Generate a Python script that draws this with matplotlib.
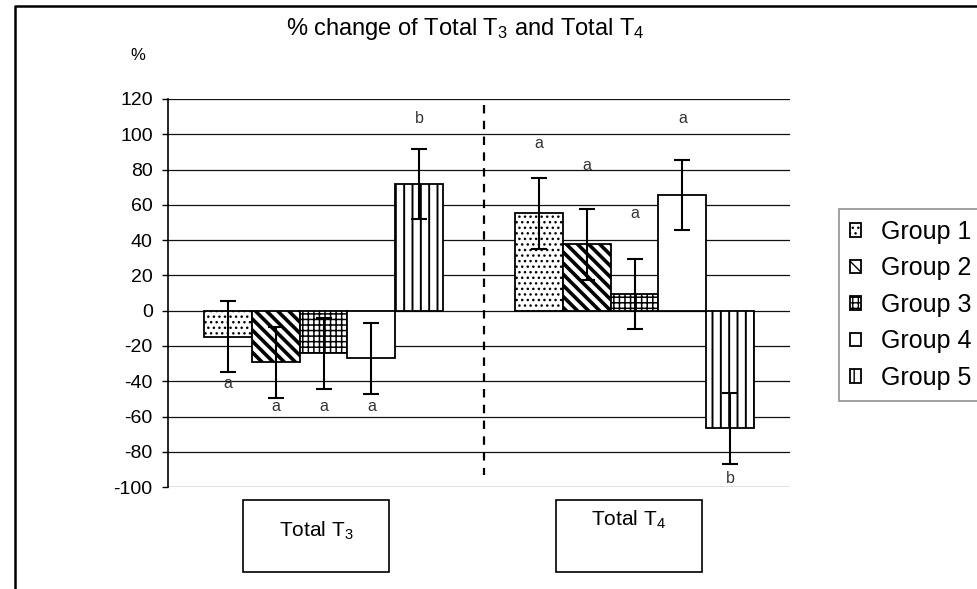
import matplotlib
matplotlib.use('Agg')
import matplotlib.pyplot as plt
import numpy as np
import matplotlib.transforms as mtransforms
from matplotlib.patches import Rectangle
from matplotlib.lines import Line2D

plt.rcParams['font.family'] = ['Liberation Sans', 'DejaVu Sans']
plt.rcParams['mathtext.default'] = 'regular'

# ---------------- data ----------------
categories = ['Total T$_3$', 'Total T$_4$']
groups = ['Group 1', 'Group 2', 'Group 3', 'Group 4', 'Group 5']
group1 = [-14.7, 55.2]
group2 = [-29.2, 37.6]
group3 = [-24.1, 9.5]
group4 = [-27.0, 65.6]
group5 = [71.8, -66.6]
group1_err = [20, 20]
group2_err = [20, 20]
group3_err = [20, 20]
group4_err = [20, 20]
group5_err = [20, 20]
letters_t3 = ['a', 'a', 'a', 'a', 'b']
letters_t4 = ['a', 'a', 'a', 'a', 'b']
letter_y_t3 = [-41, -54, -54, -54, 109]
letter_y_t4 = [95, 82, 55, 109, -95]
yticks = [-100, -80, -60, -40, -20, 0, 20, 40, 60, 80, 100, 120]

values = [group1, group2, group3, group4, group5]
errors = [group1_err, group2_err, group3_err, group4_err, group5_err]
hatches = ['...', '\\\\\\', '+++', '', '||']
hatch_lw = [1.0, 2.6, 1.1, 1.0, 1.4]

W, H = 978, 589
fig = plt.figure(figsize=(W / 100, H / 100), dpi=100)
ax = fig.add_axes([168 / W, 1 - 487.2 / H, (790 - 168) / W, (487.2 - 98.9) / H])

x = np.arange(len(categories))
width = 0.154
for i, (g, v, e) in enumerate(zip(groups, values, errors)):
    plt.rcParams['hatch.linewidth'] = hatch_lw[i]
    xpos = x + (i - 2) * width
    bars = ax.bar(xpos, v, width, facecolor='white', edgecolor='black',
                  linewidth=1.3, hatch=hatches[i], label=g, zorder=3)
    for b in bars:
        try:
            b.set_hatch_linewidth(hatch_lw[i])
        except Exception:
            pass
    ax.errorbar(xpos, v, yerr=e, fmt='none', ecolor='black', elinewidth=1.5,
                capsize=5.5, capthick=1.5, zorder=4)
    for ci, (lets, ly) in enumerate([(letters_t3, letter_y_t3), (letters_t4, letter_y_t4)]):
        ax.text(xpos[ci], ly[i], lets[i], ha='center', va='center',
                fontsize=11.5, color='#333333', zorder=5)

ax.set_xlim(-0.5, 1.5)
ax.set_ylim(-100, 120)
ax.set_yticks(yticks)
ax.set_yticklabels([str(t) for t in yticks], fontsize=14)
ax.tick_params(axis='y', direction='out', length=4, width=1, pad=7)
ax.set_xticks([])
for s in ['top', 'right', 'bottom']:
    ax.spines[s].set_visible(False)
ax.spines['left'].set_linewidth(1.2)
for t in yticks:
    ax.axhline(t, color='#111111', linewidth=0.9, zorder=1)

# divider between categories
ax.plot([0.517, 0.517], [116.5, -93], color='black', linewidth=1.6,
        linestyle=(0, (3.8, 3.3)), zorder=2)

# category boxes
bt = mtransforms.blended_transform_factory(ax.transData, fig.transFigure)
box_w = 146 / 311
box_x = [-0.024, 0.981]
text_y = [1 - 536.7 / H, 1 - 525.7 / H]
for ci, cat in enumerate(categories):
    fig.patches.append(Rectangle((box_x[ci] - box_w / 2, 1 - 572 / H), box_w, 72 / H,
                                 transform=bt, facecolor='none', edgecolor='black',
                                 linewidth=1.2))
    fig.text(box_x[ci], text_y[ci], cat, transform=bt, ha='center', va='baseline',
             fontsize=15)

# title and % label
fig.text(465 / W, 1 - 35 / H, '% change of Total T$_3$ and Total T$_4$',
         ha='center', va='baseline', fontsize=17)
fig.text(138 / W, 1 - 56 / H, '%', ha='center', va='center', fontsize=12)

# outer frame
fig.add_artist(Line2D([15 / W, 15 / W, 1.0], [0, 1 - 6 / H, 1 - 6 / H],
                      transform=fig.transFigure, color='black', linewidth=1.8))

plt.rcParams['hatch.linewidth'] = 1.0
leg = ax.legend(loc='lower left', bbox_to_anchor=(839 / W, 1 - 401 / H),
                bbox_transform=fig.transFigure, borderaxespad=0, fontsize=18,
                handlelength=0.45, handleheight=0.45, handletextpad=0.8,
                labelspacing=0.5, borderpad=0.45, fancybox=False, frameon=True)
leg.get_frame().set_edgecolor('#808080')
leg.get_frame().set_linewidth(1.3)

fig.savefig('out.png', dpi=100)
